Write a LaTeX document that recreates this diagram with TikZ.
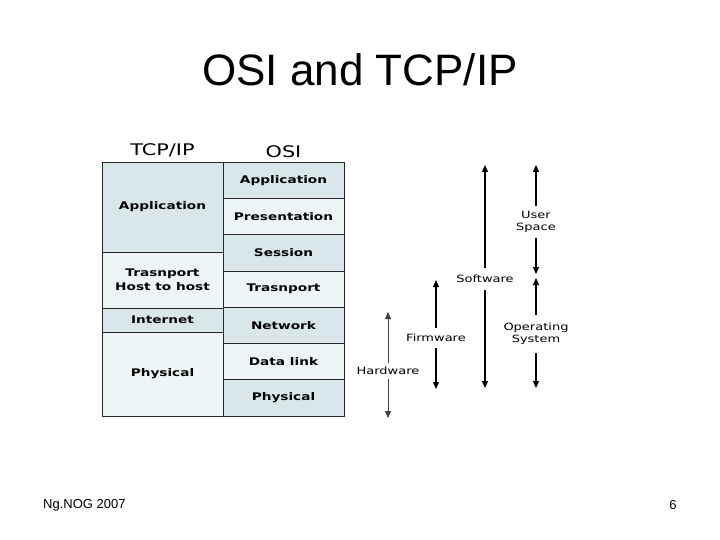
\documentclass[tikz,border=0pt]{standalone}
\usepackage{xcolor}
\usepackage{fontspec}
\setmainfont{Liberation Sans}
\newfontfamily\layerfont[FakeStretch=1.3]{DejaVu Sans}
\usetikzlibrary{arrows.meta, positioning}
\definecolor{layerdark}{HTML}{D9E7EB}
\definecolor{layerlight}{HTML}{EEF5F7}

\begin{document}
\begin{tikzpicture}[x=1pt, y=-1pt,
    layer/.style={rectangle, draw=black!85, thick, minimum width=121pt,
                  outer sep=0pt, inner sep=0pt, align=center,
                  font=\layerfont\bfseries\fontsize{10.5}{14}\selectfont},
    dark/.style={layer, fill=layerdark},
    light/.style={layer, fill=layerlight},
    colhead/.style={font=\layerfont\fontsize{16}{18}\selectfont},
    scopelabel/.style={font=\layerfont\fontsize{10}{12}\selectfont,
                       align=center, inner xsep=1pt},
    span/.style={-{Triangle[length=7pt, width=6pt]}, line width=1.3pt}
]
\useasboundingbox (0,0) rectangle (720,540);

% --- Title and footer ---
\node (title) [font=\fontsize{44}{50}\selectfont] at (360,70) {OSI and TCP/IP};
\node (foot) [font=\fontsize{13}{15}\selectfont, anchor=west, inner xsep=0pt] at (43,505) {Ng.NOG 2007};
\node (page) [font=\fontsize{13}{15}\selectfont] at (673,505) {6};

% --- TCP/IP column ---
\node (tApp) [dark, minimum height=90pt, anchor=north west] at (102,162) {Application};
\node (tTra) [light, minimum height=56pt, below=0pt of tApp] {Trasnport\\Host to host};
\node (tInt) [dark, minimum height=24pt, below=0pt of tTra] {Internet};
\node (tPhy) [light, minimum height=84pt, below=0pt of tInt] {Physical};

% --- OSI column ---
\node (oApp) [dark, minimum height=36.3pt, anchor=north west] at (223,162) {Application};
\node (oPre) [light, minimum height=36.3pt, below=0pt of oApp] {Presentation};
\node (oSes) [dark, minimum height=36.3pt, below=0pt of oPre] {Session};
\node (oTra) [light, minimum height=36.3pt, below=0pt of oSes] {Trasnport};
\node (oNet) [dark, minimum height=36.3pt, below=0pt of oTra] {Network};
\node (oDat) [light, minimum height=36.3pt, below=0pt of oNet] {Data link};
\node (oPhy) [dark, minimum height=36.3pt, below=0pt of oDat] {Physical};

% --- Column headings ---
\node (tHead) [colhead, above=1pt of tApp] {TCP/IP};
\node (oHead) [colhead, above=1pt of oApp] {OSI};

% --- Scope arrows ---
\node (hw) [scopelabel, inner ysep=4pt] at (388,371) {Hardware};
\coordinate (hwT) at (388,312);
\coordinate (hwB) at (388,418);
\node (fw) [scopelabel, inner ysep=6pt] at (436,338) {Firmware};
\coordinate (fwT) at (436,280);
\coordinate (fwB) at (436,389);
\node (sw) [scopelabel, inner ysep=7pt] at (485,279) {Software};
\coordinate (swT) at (485,165);
\coordinate (swB) at (485,388);
\node (us) [scopelabel, inner ysep=5pt] at (536,222) {User\\Space};
\coordinate (usT) at (536,165);
\coordinate (usB) at (536,274);
\node (os) [scopelabel, inner ysep=8pt] at (536,334) {Operating\\System};
\coordinate (osT) at (536,278);
\coordinate (osB) at (536,388);

\draw [span, line width=0.8pt, draw=black!75, fill=black!75] (hw) -- (hwT);
\draw [span, line width=0.8pt, draw=black!75, fill=black!75] (hw) -- (hwB);
\foreach \s in {fw, sw, us, os} {
    \draw [span] (\s) -- (\s T);
    \draw [span] (\s) -- (\s B);
}
\end{tikzpicture}
\end{document}
